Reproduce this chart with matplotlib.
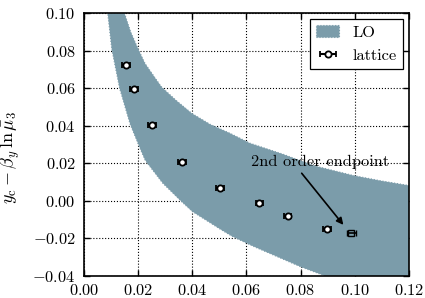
import numpy as np
import matplotlib
matplotlib.use("Agg")
import matplotlib.pyplot as plt
from matplotlib.ticker import FuncFormatter, MultipleLocator

# LO band, edges
upper_x = [0.0149, 0.0172, 0.0200, 0.0225, 0.0268, 0.0287, 0.0340, 0.0398,
           0.0465, 0.0539, 0.0613, 0.0736, 0.0850, 0.0995, 0.1100, 0.1200, 0.1250]
upper_y = [0.1000, 0.0900, 0.0808, 0.0732, 0.0643, 0.0605, 0.0535, 0.0466,
           0.0408, 0.0360, 0.0307, 0.0248, 0.0187, 0.0135, 0.0106, 0.0082, 0.0072]
lower_x = [0.0087, 0.0102, 0.0131, 0.0170, 0.0209, 0.0225, 0.0234, 0.0290,
           0.0357, 0.0400, 0.0502, 0.0548, 0.0628, 0.0798, 0.0890, 0.1000, 0.1250]
lower_y = [0.1000, 0.0808, 0.0600, 0.0408, 0.0271, 0.0218, 0.0200, 0.0095,
           0.0000, -0.0057, -0.0150, -0.0190, -0.0244, -0.0350, -0.0400, -0.0460, -0.0600]

# lattice points
lat_x = [0.0155, 0.0185, 0.0251, 0.0360, 0.0502, 0.0647, 0.0752, 0.0899]
lat_y = [0.0723, 0.0596, 0.0404, 0.0209, 0.0070, -0.0014, -0.0082, -0.0151]
lat_xerr = [0.0015, 0.0015, 0.0015, 0.0015, 0.0013, 0.0013, 0.0013, 0.0015]

# 2nd order endpoint
end_x = [0.0988]
end_y = [-0.0172]
end_xerr = [0.0016]

plt.rcParams['font.family'] = 'serif'
plt.rcParams['font.serif'] = ['cmr10']
plt.rcParams['mathtext.fontset'] = 'cm'
plt.rcParams['axes.unicode_minus'] = False
plt.rcParams['font.size'] = 11.8

band_col = '#7b9caa'

fig = plt.figure(figsize=(4.25, 2.98), dpi=100)
ax = fig.add_axes([0.198, 0.074, 0.764, 0.882])

poly_x = upper_x + lower_x[::-1]
poly_y = upper_y + lower_y[::-1]
ax.fill(poly_x, poly_y, facecolor=band_col, edgecolor=band_col, lw=0.8,
        ls=':', label='LO', zorder=1)

ax.errorbar(lat_x, lat_y, xerr=lat_xerr, fmt='o', ms=4.5, mfc='white', mec='black',
            mew=1.3, ecolor='black', elinewidth=1.5, capsize=2, capthick=1.3,
            label='lattice', zorder=3)
ax.errorbar(end_x, end_y, xerr=end_xerr, fmt='s', ms=4, mfc='none', mec='black',
            mew=1.0, ecolor='black', elinewidth=1.2, capsize=2, capthick=1.2,
            zorder=3)

ax.text(0.0872, 0.0209, '2nd order endpoint', ha='center', va='center', fontsize=11.8,
        zorder=4)
ax.annotate('', xy=(0.0958, -0.0128), xytext=(0.0804, 0.0147),
            arrowprops=dict(arrowstyle='-|>', color='black', lw=1.2,
                            mutation_scale=10, shrinkA=0, shrinkB=0), zorder=4)

ax.set_xlim(0.0, 0.12)
ax.set_ylim(-0.04, 0.10)
ax.xaxis.set_major_locator(MultipleLocator(0.02))
ax.yaxis.set_major_locator(MultipleLocator(0.02))
fmt = FuncFormatter(lambda v, p: '$%.2f$' % (0.0 if abs(v) < 1e-9 else v))
ax.xaxis.set_major_formatter(fmt)
ax.yaxis.set_major_formatter(fmt)

ax.grid(True, color='black', ls=':', lw=0.8)
ax.set_axisbelow(True)
ax.tick_params(direction='in', top=True, right=True, length=4, width=1)
ax.tick_params(axis='y', pad=6)
ax.tick_params(axis='x', pad=5)
for s in ax.spines.values():
    s.set_linewidth(1.2)

ax.set_ylabel(r'$y_{\rm c} - \beta_y\,\ln\bar{\mu}_3$', fontsize=13)
ax.yaxis.set_label_coords(-0.19, 0.45)

leg = ax.legend(loc='upper right', fancybox=False, framealpha=1, edgecolor='black',
                borderaxespad=0.35, handlelength=1.4, fontsize=11.8)
leg.get_frame().set_linewidth(0.9)

fig.savefig('out.png', dpi=100)
